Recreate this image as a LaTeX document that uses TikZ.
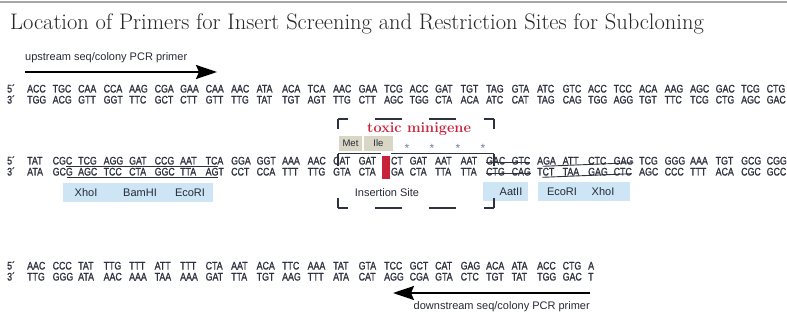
\documentclass[tikz,border=0pt]{standalone}
\usepackage{fontspec}
\usepackage{tikz}
\usepackage{xcolor}
\usetikzlibrary{arrows.meta, positioning, calc}
\newfontfamily\seqfont[FakeStretch=0.8, FakeBold=1]{Liberation Sans}
\newfontfamily\labfont{Liberation Sans}
\definecolor{seqgray}{HTML}{2E3240}
\definecolor{labgray}{HTML}{262A36}
\definecolor{siteblue}{HTML}{CDE5F4}
\definecolor{metbox}{HTML}{D9D6C6}
\definecolor{toxred}{HTML}{C72239}
\definecolor{starblue}{HTML}{6B7FA3}

\begin{document}
\begin{tikzpicture}[x=1pt, y=-1pt, line join=round,
    seq/.style={anchor=base west, inner sep=0pt, text=seqgray, font=\seqfont\fontsize{11}{11}\selectfont},
    lab/.style={inner sep=0pt, text=labgray, font=\labfont\fontsize{11}{11}\selectfont},
    site/.style={fill=siteblue, draw=none, inner sep=0pt, minimum height=19pt},
    aa/.style={fill=metbox, inner sep=0pt, minimum height=15pt, text=labgray, font=\labfont\fontsize{9.5}{9.5}\selectfont},
    uline/.style={line width=0.9pt, seqgray},
    primer/.style={line width=1.9pt, black, -{Stealth[length=21pt, width=14pt, inset=3pt]}},
    dbox/.style={line width=1.4pt, seqgray},
    hdash/.style={dash pattern=on 10pt off 27pt on 27pt off 27pt on 27pt off 28pt on 10pt},
    vdash/.style={dash pattern=on 10pt off 25pt on 12pt off 32pt on 10pt}]
    \useasboundingbox (0,0) rectangle (787,323);
    % Rahmenlinie und Titel
    \draw[gray!70, line width=1.5pt] (0,2) -- (787,2);
    \node[anchor=base west, inner sep=0pt, text=black!85, font=\fontsize{22.5}{24}\selectfont] (title) at (10,30)
      {Location of Primers for Insert Screening and Restriction Sites for Subcloning};

    % Upstream-Primer
    \coordinate (up1) at (25,72);
    \coordinate (up2) at (217,72);
    \draw[primer] (up1) -- (up2);
    \node[lab, anchor=base west] (uplab) at (25,61) {upstream seq/colony PCR primer};

    % Block 1
    \node[seq] (r1t-0) at (7,92.5) {5´};
    \node[seq] (r1b-0) at (7,103.5) {3´};
    \foreach \c [count=\i] in {ACC,TGC,CAA,CCA,AAG,CGA,GAA,CAA,AAC,ATA,ACA,TCA,AAC,GAA,TCG,ACC,GAT,TGT,TAG,GTA,ATC,GTC,ACC,TCC,ACA,AAG,AGC,GAC,TCG,CTG}
      \node[seq] (r1t-\i) at ({27+(\i-1)*25.5},92.5) {\c};
    \foreach \c [count=\i] in {TGG,ACG,GTT,GGT,TTC,GCT,CTT,GTT,TTG,TAT,TGT,AGT,TTG,CTT,AGC,TGG,CTA,ACA,ATC,CAT,TAG,CAG,TGG,AGG,TGT,TTC,TCG,CTG,AGC,GAC}
      \node[seq] (r1b-\i) at ({27+(\i-1)*25.5},103.5) {\c};

    % Block 2 mit Insertionsstelle
    \node[seq] (r2t-0) at (7,164.5) {5´};
    \node[seq] (r2b-0) at (7,175.5) {3´};
    \foreach \c [count=\i] in {TAT,CGC,TCG,AGG,GAT,CCG,AAT,TCA,GGA,GGT,AAA,AAC,CAT,GAT,{\phantom{G}CT},GAT,AAT,AAT,GAC,GTC,AGA,ATT,CTC,GAG,TCG,GGG,AAA,TGT,GCG,CGG}
      \node[seq] (r2t-\i) at ({27+(\i-1)*25.5},164.5) {\c};
    \foreach \c [count=\i] in {ATA,GCG,AGC,TCC,CTA,GGC,TTA,AGT,CCT,CCA,TTT,TTG,GTA,CTA,{\phantom{G}GA},CTA,TTA,TTA,CTG,CAG,TCT,TAA,GAG,CTC,AGC,CCC,TTT,ACA,CGC,GCC}
      \node[seq] (r2b-\i) at ({27+(\i-1)*25.5},175.5) {\c};
    \fill[toxred] ($(r2t-15.base west)+(-2.5,-8.5)$) rectangle ($(r2b-15.base west)+(5.5,3.5)$);

    % Schnittstellen unterstreichen
    \draw[uline] ([shift={(-6.3,1.8)}]r2t-2.base east) -- ([shift={(-5.9,1.8)}]r2t-8.base east);
    \draw[uline] ([shift={(-6.3,1.8)}]r2b-2.base east) -- ([shift={(-5.9,1.8)}]r2b-8.base east);
    \draw[uline] ([yshift=1.8]r2t-19.base west) -- ([yshift=1.8]r2t-20.base east);
    \draw[uline] ([yshift=1.8]r2b-19.base west) -- ([yshift=1.8]r2b-20.base east);
    \draw[uline] ([shift={(5.9,1.8)}]r2t-21.base west) -- ([yshift=1.8]r2t-24.base east);
    \draw[uline] ([shift={(5.4,1.8)}]r2b-21.base west) -- ([yshift=1.8]r2b-24.base east);

    % Restriktionsenzyme
    \node[site, minimum width=150pt] (siteL) at (138,192.5) {};
    \node[lab] (xho1) at (86,193) {XhoI};
    \node[lab] (bam) at (140,193) {BamHI};
    \node[lab] (eco1) at (190,193) {EcoRI};
    \node[site, minimum width=45pt] (siteA) at (505.5,191.5) {};
    \node[lab] (aat) at (511,192) {AatII};
    \node[site, minimum width=92pt] (siteR) at (584,191.5) {};
    \node[lab] (eco2) at (562,192) {EcoRI};
    \node[lab] (xho2) at (603,192) {XhoI};
    \node[lab] (ins) at (387,193) {Insertion Site};

    % Toxisches Minigen
    \coordinate (bxa) at (338,119);
    \coordinate (bxb) at (494,119);
    \coordinate (bxc) at (494,208);
    \coordinate (bxd) at (338,208);
    \draw[dbox, hdash] (bxa) -- (bxb);
    \draw[dbox, hdash] (bxd) -- (bxc);
    \draw[dbox, vdash] (bxa) -- (bxd);
    \draw[dbox, vdash] (bxb) -- (bxc);
    \coordinate (mg1) at (338,153);
    \coordinate (mg2) at (494,153);
    \draw[line width=0.9pt, seqgray] (mg1) -- ($(r2t-15.base west)+(-3.5,-11.5)$);
    \draw[line width=0.9pt, seqgray] ($(r2t-15.base west)+(6.5,-11.5)$) -- (mg2);
    \node[anchor=base west, inner sep=0pt, text=toxred, font=\bfseries\fontsize{14.5}{14.5}\selectfont] (toxic) at (367,133) {toxic minigene};
    \node[aa, minimum width=23pt] (met) at (350.5,143.5) {Met};
    \node[aa, minimum width=29pt] (ile) at (378.5,143.5) {Ile};
    \foreach \x [count=\i] in {407,432,458,483}
      \node[anchor=base, inner sep=0pt, text=starblue, font=\labfont\fontsize{12}{12}\selectfont] (st\i) at (\x,153) {*};

    % Block 3
    \node[seq] (r3t-0) at (7,269.5) {5´};
    \node[seq] (r3b-0) at (7,280.5) {3´};
    \foreach \c [count=\i] in {AAC,CCC,TAT,TTG,TTT,ATT,TTT,CTA,AAT,ACA,TTC,AAA,TAT,GTA,TCC,GCT,CAT,GAG,ACA,ATA,ACC,CTG,A}
      \node[seq] (r3t-\i) at ({27+(\i-1)*25.5},269.5) {\c};
    \foreach \c [count=\i] in {TTG,GGG,ATA,AAC,AAA,TAA,AAA,GAT,TTA,TGT,AAG,TTT,ATA,CAT,AGG,CGA,GTA,CTC,TGT,TAT,TGG,GAC,T}
      \node[seq] (r3b-\i) at ({27+(\i-1)*25.5},280.5) {\c};

    % Downstream-Primer
    \coordinate (dn1) at (590,293);
    \coordinate (dn2) at (393,293);
    \draw[primer] (dn1) -- (dn2);
    \node[lab, anchor=base east] (dnlab) at (590,309) {downstream seq/colony PCR primer};
  \end{tikzpicture}
\end{document}
